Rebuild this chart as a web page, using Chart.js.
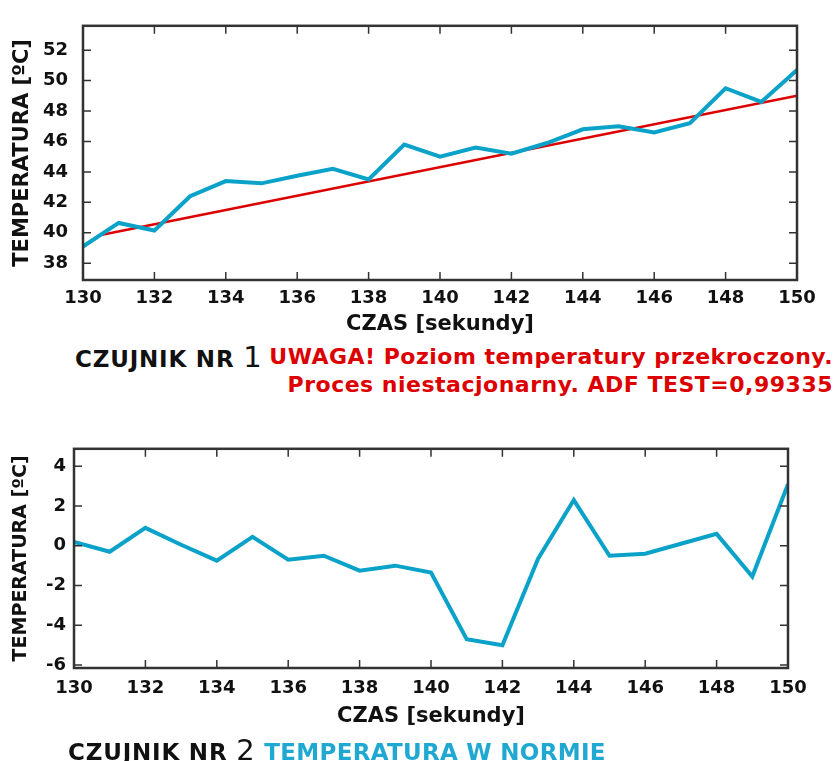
<!DOCTYPE html>
<html>
<head>
<meta charset="utf-8">
<script src="https://cdn.jsdelivr.net/npm/chart.js@4.4.1/dist/chart.umd.min.js"></script>
<style>
  body { margin: 0; background: #fff; }
  #wrap { position: relative; width: 836px; height: 761px; font-family: 'DejaVu Sans', sans-serif; }
  .cv { position: absolute; left: 0; }
  .cap { position: absolute; font-weight: bold; font-size: 22px; line-height: 28px; white-space: nowrap; }
  .big { font-size: 29px; font-weight: normal; }
</style>
</head>
<body>
<div id="wrap">
  <div class="cv" style="top:0;width:836px;height:340px"><canvas id="wykres1"></canvas></div>
  <div class="cap" style="left:75px;top:343px;color:#111;font-size:23px;letter-spacing:0.8px">CZUJNIK NR <span class="big">1</span></div>
  <div class="cap" style="right:3px;top:343px;color:#dd0000;text-align:right;letter-spacing:0.5px">UWAGA! Poziom temperatury przekroczony.<br>Proces niestacjonarny. ADF TEST=0,99335</div>
  <div class="cv" style="top:430px;width:836px;height:305px"><canvas id="wykres2"></canvas></div>
  <div class="cap" style="left:68px;top:736px;color:#111;font-size:23px;letter-spacing:0.8px">CZUJNIK NR <span class="big">2</span> <span style="color:#1fa8d2;letter-spacing:0.3px">TEMPERATURA W NORMIE</span></div>
</div>
<script>
var sekundy = [130,131,132,133,134,135,136,137,138,139,140,141,142,143,144,145,146,147,148,149,150];
var czujnik1 = [39.1,40.65,40.15,42.4,43.4,43.25,43.75,44.2,43.5,45.8,45.0,45.6,45.2,45.9,46.8,47.0,46.6,47.2,49.5,48.6,50.7];
var czujnik2 = [0.2,-0.3,0.9,0.05,-0.75,0.45,-0.7,-0.5,-1.25,-1.0,-1.35,-4.7,-5.0,-0.65,2.3,-0.5,-0.4,0.1,0.6,-1.55,3.1];
var trendX = [130.5, 150];
var trendY = [39.85, 49.0];
var xTicks = [130,132,134,136,138,140,142,144,146,148,150];
var yTicks1 = [38,40,42,44,46,48,50,52];
var yTicks2 = [-6,-4,-2,0,2,4];

var niebieski = '#0aa2c9';
var czerwony = '#dd0000';
var font = 'DejaVu Sans';

function punkty(xs, ys) {
  return xs.map(function(x, i){ return {x: x, y: ys[i]}; });
}

// ramka i kreski podzialki do srodka
var ramka = {
  id: 'ramka',
  afterDraw: function(chart) {
    var ctx = chart.ctx, a = chart.chartArea, x = chart.scales.x, y = chart.scales.y;
    ctx.save();
    ctx.strokeStyle = '#333';
    ctx.lineWidth = 1.5;
    ctx.beginPath();
    x.ticks.forEach(function(t){
      var px = x.getPixelForValue(t.value);
      ctx.moveTo(px, a.bottom); ctx.lineTo(px, a.bottom - 8);
      ctx.moveTo(px, a.top); ctx.lineTo(px, a.top + 8);
    });
    y.ticks.forEach(function(t){
      var py = y.getPixelForValue(t.value);
      ctx.moveTo(a.left, py); ctx.lineTo(a.left + 8, py);
      ctx.moveTo(a.right, py); ctx.lineTo(a.right - 8, py);
    });
    ctx.stroke();
    ctx.lineWidth = 2.5;
    ctx.strokeRect(a.left, a.top, a.right - a.left, a.bottom - a.top);
    ctx.restore();
  }
};

function opcje(cfg) {
  return {
    responsive: true,
    maintainAspectRatio: false,
    animation: false,
    layout: { padding: { top: cfg.top, right: cfg.right, left: 0, bottom: 0 } },
    plugins: { legend: { display: false }, tooltip: { enabled: false } },
    elements: { point: { radius: 0 } },
    scales: {
      x: {
        type: 'linear', min: 130, max: 150,
        grid: { display: false, drawTicks: false }, border: { display: false },
        afterBuildTicks: function(s){ s.ticks = xTicks.map(function(v){ return {value: v}; }); },
        afterFit: function(s){ s.height = cfg.xh; },
        ticks: { padding: cfg.xpad, color: '#111', font: { family: font, size: 18, weight: 'bold' } },
        title: { display: true, text: 'CZAS [sekundy]', color: '#111', padding: { top: 0, bottom: cfg.tpad },
                 font: { family: font, size: 21, weight: 'bold' } }
      },
      y: {
        min: cfg.ymin, max: cfg.ymax,
        grid: { display: false, drawTicks: false }, border: { display: false },
        afterBuildTicks: function(s){ s.ticks = cfg.yt.map(function(v){ return {value: v}; }); },
        afterFit: function(s){ s.width = cfg.yw; },
        ticks: { padding: cfg.ypad, color: '#111', font: { family: font, size: 18, weight: 'bold' } },
        title: { display: true, text: 'TEMPERATURA [ºC]', color: '#111', padding: { top: 10, bottom: 0 },
                 font: { family: font, size: cfg.ytf, weight: 'bold' } }
      }
    }
  };
}

new Chart(document.getElementById('wykres1'), {
  type: 'line',
  data: {
    datasets: [{
      data: punkty(sekundy, czujnik1),
      borderColor: niebieski, borderWidth: 4, tension: 0
    }, {
      data: punkty(trendX, trendY),
      borderColor: czerwony, borderWidth: 2.5, tension: 0
    }]
  },
  options: opcje({ top: 15, right: 39, xh: 60, xpad: 8, tpad: 3, yw: 83, ypad: 15, ytf: 21,
                   ymin: 36.9, ymax: 53.6, yt: yTicks1 }),
  plugins: [ramka]
});

new Chart(document.getElementById('wykres2'), {
  type: 'line',
  data: {
    datasets: [{
      data: punkty(sekundy, czujnik2),
      borderColor: niebieski, borderWidth: 4, tension: 0
    }]
  },
  options: opcje({ top: 13, right: 48, xh: 67, xpad: 10, tpad: 6, yw: 74, ypad: 8, ytf: 19,
                   ymin: -6.15, ymax: 4.88, yt: yTicks2 }),
  plugins: [ramka]
});
</script>
</body>
</html>
